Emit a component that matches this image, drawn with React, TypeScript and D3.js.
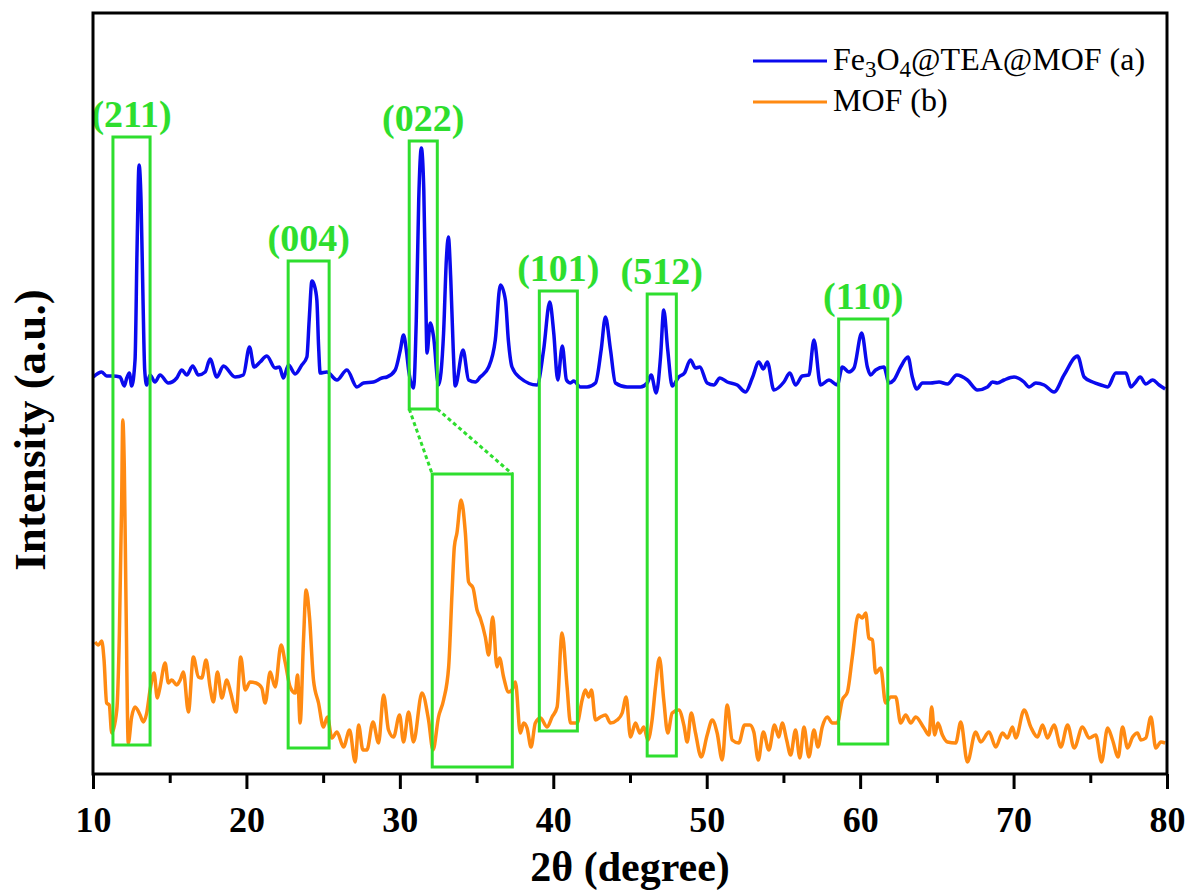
import React, { useEffect, useRef } from 'react';
import * as d3 from 'd3';

// 2θ (degree) vs intensity (a.u.)
const blueSeries: [number, number][] = [
  [10.02, 397], [10.57, 402], [10.89, 398], [11.32, 398], [11.76, 397], [12.04, 388], [12.2, 396],
  [12.37, 401], [12.52, 388], [12.74, 414], [12.87, 524], [13.0, 609], [13.13, 574], [13.26, 474],
  [13.37, 404], [13.5, 389], [13.72, 399], [14.04, 392], [14.37, 399], [14.91, 391], [15.46, 396],
  [15.79, 404], [16.11, 399], [16.5, 408], [16.87, 399], [17.31, 402], [17.63, 415], [18.07, 397],
  [18.5, 408], [19.26, 397], [19.8, 399], [20.2, 427], [20.5, 407], [20.89, 412], [21.33, 418],
  [21.87, 406], [22.15, 407], [22.41, 396], [22.74, 409], [23.18, 400], [23.61, 409], [23.94, 417],
  [24.09, 454], [24.27, 493], [24.42, 489], [24.59, 474], [24.7, 429], [24.81, 401], [25.24, 402],
  [25.9, 394], [26.55, 404], [27.2, 387], [27.63, 391], [28.28, 392], [28.83, 396], [29.16, 397],
  [29.7, 404], [30.03, 424], [30.24, 439], [30.42, 424], [30.57, 404], [30.89, 386], [31.07, 454],
  [31.23, 574], [31.4, 626], [31.56, 584], [31.69, 474], [31.77, 421], [31.98, 451], [32.2, 437],
  [32.52, 389], [32.85, 441], [33.03, 514], [33.16, 537], [33.32, 494], [33.48, 424], [33.61, 388],
  [34.12, 424], [34.48, 394], [34.92, 392], [35.24, 397], [35.79, 407], [36.22, 434], [36.55, 489],
  [36.88, 474], [37.07, 434], [37.31, 407], [37.85, 396], [38.94, 389], [39.37, 424], [39.77, 472],
  [40.03, 441], [40.29, 394], [40.59, 428], [40.86, 394], [41.12, 391], [41.33, 393], [41.77, 387],
  [42.2, 387], [42.75, 391], [43.12, 424], [43.4, 457], [43.73, 424], [44.05, 391], [44.81, 387],
  [45.68, 387], [46.12, 391], [46.38, 399], [46.71, 381], [46.99, 417], [47.2, 464], [47.46, 424],
  [47.75, 388], [48.18, 397], [48.55, 401], [48.94, 414], [49.27, 406], [49.55, 407], [50.03, 391],
  [50.46, 389], [50.86, 396], [51.34, 392], [51.99, 389], [52.53, 382], [52.97, 396], [53.4, 412],
  [53.69, 405], [53.95, 412], [54.38, 384], [55.03, 392], [55.42, 401], [55.79, 389], [56.23, 398],
  [56.66, 399], [56.99, 434], [57.42, 389], [57.97, 394], [58.51, 389], [58.84, 407], [59.27, 402],
  [59.6, 406], [60.1, 441], [60.47, 407], [60.68, 399], [61.01, 404], [61.55, 407], [61.88, 391],
  [62.2, 394], [62.64, 407], [63.12, 417], [63.4, 397], [63.69, 385], [64.06, 391], [64.6, 391],
  [65.14, 392], [65.69, 390], [66.3, 399], [66.99, 394], [67.65, 384], [68.3, 387], [68.63, 392],
  [68.95, 391], [69.38, 394], [70.03, 397], [70.68, 392], [71.01, 387], [71.45, 391], [71.99, 389],
  [72.64, 382], [73.29, 399], [74.17, 418], [74.6, 397], [75.15, 392], [75.69, 389], [76.13, 387],
  [76.67, 401], [77.32, 401], [77.65, 387], [77.91, 391], [78.25, 397], [78.62, 390], [79.06, 394],
  [79.49, 389], [79.88, 385],
];

const orangeSeries: [number, number][] = [
  [10.13, 132], [10.35, 129], [10.57, 133], [10.72, 114], [10.89, 71], [11.06, 69], [11.22, 41],
  [11.55, 64], [11.72, 141], [11.87, 274], [11.94, 354], [12.04, 307], [12.15, 174], [12.3, 31],
  [12.52, 57], [12.74, 67], [13.07, 59], [13.28, 52], [13.5, 61], [13.72, 84], [13.98, 101],
  [14.19, 76], [14.37, 87], [14.7, 111], [14.91, 91], [15.13, 94], [15.46, 89], [15.68, 94],
  [15.89, 102], [16.22, 62], [16.54, 117], [16.87, 97], [17.09, 96], [17.37, 114], [17.63, 87],
  [17.85, 72], [18.11, 102], [18.4, 76], [18.72, 94], [18.98, 81], [19.33, 62], [19.63, 117],
  [19.92, 84], [20.24, 92], [20.63, 91], [21.0, 86], [21.22, 71], [21.55, 102], [21.87, 87],
  [22.26, 129], [22.52, 112], [22.85, 87], [23.18, 81], [23.33, 99], [23.5, 51], [23.72, 134],
  [23.89, 184], [24.11, 157], [24.37, 94], [24.7, 71], [25.02, 47], [25.28, 57], [25.57, 36],
  [25.9, 42], [26.33, 27], [26.72, 44], [27.09, 12], [27.31, 49], [27.59, 24], [27.85, 24],
  [28.25, 52], [28.61, 31], [28.94, 79], [29.26, 44], [29.59, 37], [29.98, 59], [30.24, 32],
  [30.57, 62], [30.89, 32], [31.44, 81], [31.87, 54], [32.16, 24], [32.52, 57], [32.85, 74],
  [33.18, 107], [33.4, 181], [33.55, 227], [33.72, 241], [33.99, 274], [34.27, 241], [34.48, 192],
  [34.77, 186], [35.03, 164], [35.24, 156], [35.57, 137], [35.79, 119], [36.05, 157], [36.33, 107],
  [36.5, 116], [36.76, 97], [37.09, 82], [37.31, 84], [37.53, 92], [37.85, 41], [38.07, 51],
  [38.29, 46], [38.55, 27], [38.83, 51], [39.16, 56], [39.6, 47], [39.92, 57], [40.25, 67],
  [40.57, 141], [40.9, 87], [41.12, 51], [41.55, 51], [41.88, 74], [42.09, 84], [42.31, 77],
  [42.49, 84], [42.75, 54], [43.07, 57], [43.4, 59], [43.73, 51], [44.16, 54], [44.49, 61],
  [44.75, 77], [45.03, 37], [45.36, 51], [45.64, 41], [45.9, 47], [46.16, 34], [46.44, 54],
  [46.66, 87], [46.92, 116], [47.2, 74], [47.46, 41], [47.75, 61], [48.18, 64], [48.51, 49],
  [48.73, 32], [48.99, 61], [49.27, 41], [49.64, 17], [50.03, 39], [50.36, 54], [50.68, 41],
  [51.01, 14], [51.34, 69], [51.66, 34], [52.09, 31], [52.47, 49], [52.81, 49], [53.07, 42],
  [53.36, 14], [53.69, 42], [54.05, 24], [54.42, 49], [54.7, 37], [54.92, 51], [55.21, 34],
  [55.47, 19], [55.79, 44], [56.07, 16], [56.34, 47], [56.66, 17], [56.99, 44], [57.25, 27],
  [57.53, 47], [57.86, 57], [58.19, 51], [58.51, 51], [58.84, 74], [59.17, 82], [59.49, 117],
  [59.88, 159], [60.14, 156], [60.36, 161], [60.57, 136], [60.8, 134], [61.01, 101], [61.34, 106],
  [61.66, 71], [61.99, 77], [62.32, 77], [62.64, 51], [62.97, 59], [63.3, 51], [63.62, 57],
  [64.16, 46], [64.49, 39], [64.66, 67], [64.86, 39], [65.07, 51], [65.36, 39], [65.69, 32],
  [66.23, 31], [66.56, 52], [66.99, 12], [67.53, 42], [67.86, 32], [68.4, 42], [68.84, 27],
  [69.28, 41], [69.6, 36], [69.93, 47], [70.14, 36], [70.69, 64], [71.12, 47], [71.56, 37],
  [71.89, 49], [72.21, 36], [72.64, 49], [73.08, 27], [73.52, 49], [73.95, 26], [74.49, 47],
  [74.93, 36], [75.36, 39], [75.73, 12], [76.13, 46], [76.45, 34], [76.82, 17], [77.1, 47],
  [77.43, 26], [77.76, 37], [78.08, 41], [78.3, 34], [78.62, 36], [78.95, 57], [79.27, 26],
  [79.6, 32], [79.88, 31],
];

// highlighted reflections: hkl label, 2θ range, intensity range
const reflectionLabels = ['(211)', '(004)', '(022)', '(101)', '(512)', '(110)'];
const reflectionRanges: [number, number, number, number][] = [
  [11.3, 13.72, 29, 637],
  [22.72, 25.39, 26, 513],
  [30.61, 32.44, 365, 633],
  [39.09, 41.57, 43, 483],
  [46.12, 48.02, 18, 480],
  [58.6, 61.8, 30, 455],
];
// magnified view of the (022) region on the MOF trace
const zoomRange: [number, number, number, number] = [32.11, 37.33, 7, 300];

const xTicks = [10, 20, 30, 40, 50, 60, 70, 80];
const xMinorTicks = [15, 25, 35, 45, 55, 65, 75];

const W = 1190;
const H = 894;
const margin = { top: 13, right: 23, bottom: 120, left: 93 };
const serif = '"Liberation Serif", "Times New Roman", serif';
const GREEN = '#2ede2e';
const BLUE = '#0a0aee';
const ORANGE = '#ff8a12';

export default function App() {
  const axisRef = useRef<SVGGElement>(null);

  const x = d3.scaleLinear().domain([10, 80]).range([margin.left, W - margin.right]);
  const y = d3.scaleLinear().domain([0, 761]).range([H - margin.bottom, margin.top]);
  const x0 = margin.left;
  const x1 = W - margin.right;
  const yTop = margin.top;
  const yBot = y(0);

  const line = d3
    .line<[number, number]>()
    .x(d => x(d[0]))
    .y(d => y(d[1]))
    .curve(d3.curveMonotoneX);

  useEffect(() => {
    const g = d3.select(axisRef.current);
    g.selectAll('*').remove();
    const major = g.append('g').call(
      d3.axisBottom(x).tickValues(xTicks).tickSize(15).tickPadding(10).tickFormat(d3.format('d'))
    );
    major.select('.domain').remove();
    major.selectAll('line').attr('stroke', '#000').attr('stroke-width', 3);
    major
      .selectAll('text')
      .attr('font-family', serif)
      .attr('font-weight', 'bold')
      .attr('font-size', 36)
      .attr('fill', '#000')
      .attr('dy', '0.93em');
    const minor = g.append('g').call(
      d3.axisBottom(x).tickValues(xMinorTicks).tickSize(9).tickFormat(() => '')
    );
    minor.select('.domain').remove();
    minor.selectAll('line').attr('stroke', '#000').attr('stroke-width', 3);
  }, []);

  const dashed = [
    [reflectionRanges[2][0], zoomRange[0]],
    [reflectionRanges[2][1], zoomRange[1]],
  ];

  return (
    <svg width={W} height={H} style={{ display: 'block', position: 'absolute', left: 0, top: 0 }}>
      <rect x={0} y={0} width={W} height={H} fill="#fff" />
      <path d={line(orangeSeries) ?? ''} fill="none" stroke={ORANGE} strokeWidth={3.5} strokeLinejoin="round" />
      <path d={line(blueSeries) ?? ''} fill="none" stroke={BLUE} strokeWidth={3.5} strokeLinejoin="round" />

      {reflectionRanges.map((r, i) => (
        <g key={reflectionLabels[i]}>
          <rect
            x={x(r[0])}
            y={y(r[3])}
            width={x(r[1]) - x(r[0])}
            height={y(r[2]) - y(r[3])}
            fill="none"
            stroke={GREEN}
            strokeWidth={3}
          />
          <text
            x={(x(r[0]) + x(r[1])) / 2}
            y={y(r[3]) - 10}
            textAnchor="middle"
            fontFamily={serif}
            fontWeight="bold"
            fontSize={38}
            fill={GREEN}
          >
            {reflectionLabels[i]}
          </text>
        </g>
      ))}
      <rect
        x={x(zoomRange[0])}
        y={y(zoomRange[3])}
        width={x(zoomRange[1]) - x(zoomRange[0])}
        height={y(zoomRange[2]) - y(zoomRange[3])}
        fill="none"
        stroke={GREEN}
        strokeWidth={3}
      />
      {dashed.map((d, i) => (
        <line
          key={i}
          x1={x(d[0])}
          y1={y(reflectionRanges[2][2])}
          x2={x(d[1])}
          y2={y(zoomRange[3])}
          stroke={GREEN}
          strokeWidth={3}
          strokeDasharray="4 3"
        />
      ))}

      <rect x={x0} y={yTop} width={x1 - x0} height={yBot - yTop} fill="none" stroke="#000" strokeWidth={3} />
      <g ref={axisRef} transform={`translate(0,${yBot})`} />

      <text x={(x0 + x1) / 2} y={881} textAnchor="middle" fontFamily={serif} fontWeight="bold" fontSize={42}>
        2θ (degree)
      </text>
      <text
        transform={`translate(45,430) rotate(-90)`}
        textAnchor="middle"
        fontFamily={serif}
        fontWeight="bold"
        fontSize={45}
      >
        Intensity (a.u.)
      </text>

      <g fontFamily={serif} fontSize={32}>
        <line x1={753} x2={827} y1={61} y2={61} stroke={BLUE} strokeWidth={3} />
        <text x={833} y={70}>
          Fe<tspan fontSize={23} dy={7}>3</tspan>
          <tspan dy={-7}>O</tspan>
          <tspan fontSize={23} dy={7}>4</tspan>
          <tspan dy={-7}>@TEA@MOF (a)</tspan>
        </text>
        <line x1={753} x2={827} y1={102} y2={102} stroke={ORANGE} strokeWidth={3} />
        <text x={833} y={111}>MOF (b)</text>
      </g>
    </svg>
  );
}
